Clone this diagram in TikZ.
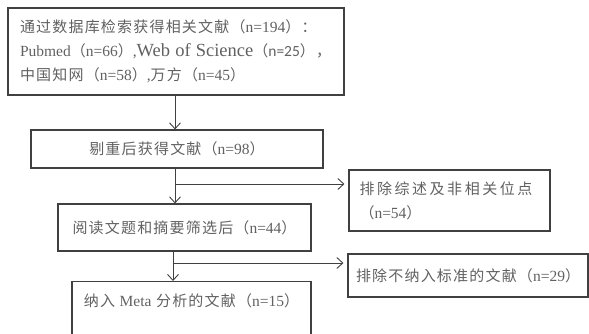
\documentclass[tikz,border=0pt]{standalone}
\usepackage{fontspec}
\setmainfont{Liberation Serif}
\newfontfamily\cjk[LetterSpace=8]{Noto Sans CJK SC}
\newfontfamily\cjkwide[LetterSpace=17]{Noto Sans CJK SC}
\newfontfamily\cali{Carlito}
\newcommand{\zh}[1]{{\fontsize{15}{24}\selectfont\cjk #1}}
\newcommand{\zhwide}[1]{{\fontsize{15}{24}\selectfont\cjkwide #1}}
\usetikzlibrary{arrows.meta}
\definecolor{txtgray}{gray}{0.38}
\definecolor{linegray}{gray}{0.25}

\begin{document}
\begin{tikzpicture}
 [x=1pt, y=-1pt,
  font=\fontsize{15.5}{24}\selectfont,
  box/.style={rectangle, draw=linegray, line width=1.1pt, text=txtgray, inner sep=0pt},
  flow/.style={->, >={Straight Barb[length=6pt,width=11pt]}, draw=linegray, line width=0.9pt},
  side/.style={flow, shorten >=4pt}]
 \useasboundingbox (0,0) rectangle (589,334);
 \clip (0,0) rectangle (589,334);

 \node[box, minimum width=336pt, minimum height=87pt, text width=312pt, align=left] (search) at (176,51.5)
  {\zh{通过数据库检索获得相关文献（}n=194\zh{）：}\\
   Pubmed\zh{（}n=66\zh{）},{\fontsize{18.5}{24}\selectfont Web of Science}{\cali\zh{（}n=25\zh{），}}\\
   \zh{中国知网（}n=58\zh{）},\zh{万方（}n=45\zh{）}};
 \node[box, minimum width=292pt, minimum height=38pt] (dedup) at (177,149)
  {\zh{剔重后获得文献（}n=98\zh{）}};
 \node[box, minimum width=253pt, minimum height=47pt] (screen) at (184.5,227.5)
  {\zh{阅读文题和摘要筛选后（}n=44\zh{）}};
 \node[box, minimum width=239pt, anchor=north, text height=25pt, text depth=40pt] (incl) at (191.5,281)
  {\zh{纳入 }Meta\zh{ 分析的文献（}n=15\zh{）}};
 \node[box, minimum width=201pt, minimum height=61pt, text width=180pt, align=left] (excl1) at (449.5,200.5)
  {\zhwide{排除综述及非相关位点}\\
   \zh{（}n=54\zh{）}};
 \node[box, minimum width=240pt, minimum height=43pt] (excl2) at (468,275.5)
  {\zh{排除不纳入标准的文献（}n=29\zh{）}};

 % main line and the two side exits
 \coordinate (spine) at (175,0);
 \coordinate (spine2) at (173,0);
 \coordinate (fork1) at (175,184);
 \coordinate (fork2) at (173,263);
 \draw[flow] (spine |- search.south) -- (spine |- dedup.north);
 \draw[flow] (spine |- dedup.south) -- (spine |- screen.north);
 \draw[flow] (spine2 |- screen.south) -- (spine2 |- incl.north);
 \draw[side] (fork1) -- (fork1 -| excl1.west);
 \draw[side] (fork2) -- (fork2 -| excl2.west);
\end{tikzpicture}
\end{document}
